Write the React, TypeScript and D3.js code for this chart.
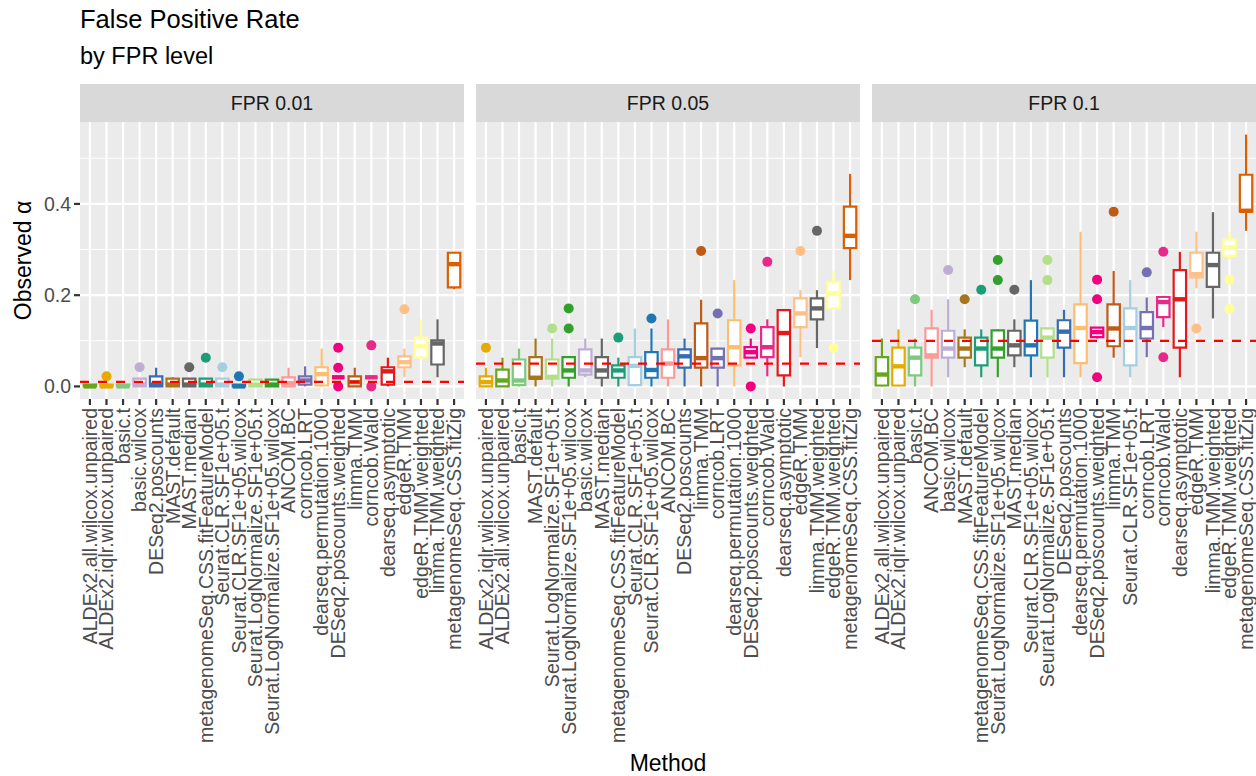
import React from "react";
import * as d3 from "d3";

// Facet titles and the nominal FPR level drawn as a dashed reference line in each facet
const panelTitles = ["FPR 0.01", "FPR 0.05", "FPR 0.1"];
const nominalLevels = [0.01, 0.05, 0.1];
const yMajorTicks = [0, 0.2, 0.4];
const yMinorTicks = [0.1, 0.3, 0.5];

// Box summaries: [lower whisker, Q1, median, Q3, upper whisker]
type Stats = [number, number, number, number, number];

// ---- FPR 0.01 (methods ordered by median) ----
const fpr01Methods = [
  "ALDEx2.all.wilcox.unpaired",
  "ALDEx2.iqlr.wilcox.unpaired",
  "basic.t",
  "basic.wilcox",
  "DESeq2.poscounts",
  "MAST.default",
  "MAST.median",
  "metagenomeSeq.CSS.fitFeatureModel",
  "Seurat.CLR.SF1e+05.t",
  "Seurat.CLR.SF1e+05.wilcox",
  "Seurat.LogNormalize.SF1e+05.t",
  "Seurat.LogNormalize.SF1e+05.wilcox",
  "ANCOM.BC",
  "corncob.LRT",
  "dearseq.permutation.1000",
  "DESeq2.poscounts.weighted",
  "limma.TMM",
  "corncob.Wald",
  "dearseq.asymptotic",
  "edgeR.TMM",
  "edgeR.TMM.weighted",
  "limma.TMM.weighted",
  "metagenomeSeq.CSS.fitZig",
];
const fpr01Stats: Stats[] = [
  [0, 0, 0, 0.004, 0.004],
  [0, 0, 0, 0.004, 0.004],
  [0, 0, 0, 0.004, 0.004],
  [0, 0, 0.004, 0.017, 0.017],
  [0, 0, 0.004, 0.022, 0.041],
  [0, 0, 0.004, 0.017, 0.02],
  [0, 0, 0.004, 0.017, 0.017],
  [0, 0, 0.004, 0.017, 0.017],
  [0, 0, 0.004, 0.017, 0.017],
  [0, 0, 0, 0.004, 0.004],
  [0, 0, 0.004, 0.015, 0.015],
  [0, 0, 0.004, 0.015, 0.015],
  [0, 0, 0.007, 0.02, 0.041],
  [0, 0.004, 0.013, 0.022, 0.044],
  [0, 0.002, 0.027, 0.042, 0.083],
  [0.02, 0.02, 0.02, 0.02, 0.02],
  [0, 0, 0.0095, 0.022, 0.041],
  [0.02, 0.02, 0.02, 0.02, 0.02],
  [0, 0.004, 0.033, 0.042, 0.063],
  [0.02, 0.042, 0.053, 0.066, 0.083],
  [0.063, 0.063, 0.088, 0.107, 0.147],
  [0.02, 0.048, 0.094, 0.101, 0.147],
  [0.213, 0.217, 0.268, 0.293, 0.295],
];
const fpr01Outliers: number[][] = [
  [], [0.022], [], [0.042], [], [], [0.042], [0.063], [0.042], [0.022], [], [],
  [], [], [], [0.085, 0.041, 0], [], [0.09, 0], [], [0.169], [], [], [],
];

// ---- FPR 0.05 ----
const fpr05Methods = [
  "ALDEx2.iqlr.wilcox.unpaired",
  "ALDEx2.all.wilcox.unpaired",
  "basic.t",
  "MAST.default",
  "Seurat.LogNormalize.SF1e+05.t",
  "Seurat.LogNormalize.SF1e+05.wilcox",
  "basic.wilcox",
  "MAST.median",
  "metagenomeSeq.CSS.fitFeatureModel",
  "Seurat.CLR.SF1e+05.t",
  "Seurat.CLR.SF1e+05.wilcox",
  "ANCOM.BC",
  "DESeq2.poscounts",
  "limma.TMM",
  "corncob.LRT",
  "dearseq.permutation.1000",
  "DESeq2.poscounts.weighted",
  "corncob.Wald",
  "dearseq.asymptotic",
  "edgeR.TMM",
  "limma.TMM.weighted",
  "edgeR.TMM.weighted",
  "metagenomeSeq.CSS.fitZig",
];
const fpr05Stats: Stats[] = [
  [0, 0, 0.0095, 0.022, 0.041],
  [0, 0, 0.013, 0.037, 0.063],
  [0, 0.003, 0.013, 0.059, 0.083],
  [0, 0.017, 0.019, 0.064, 0.105],
  [0, 0.017, 0.021, 0.059, 0.105],
  [0, 0.019, 0.035, 0.064, 0.064],
  [0.02, 0.026, 0.035, 0.081, 0.105],
  [0, 0.019, 0.035, 0.064, 0.105],
  [0, 0.019, 0.035, 0.046, 0.063],
  [0, 0.003, 0.045, 0.064, 0.127],
  [0, 0.019, 0.036, 0.075, 0.127],
  [0, 0.019, 0.05, 0.081, 0.147],
  [0, 0.041, 0.066, 0.081, 0.105],
  [0, 0.041, 0.062, 0.138, 0.19],
  [0, 0.041, 0.062, 0.083, 0.085],
  [0, 0.046, 0.086, 0.145, 0.233],
  [0.063, 0.063, 0.075, 0.086, 0.105],
  [0.022, 0.064, 0.086, 0.13, 0.147],
  [0, 0.024, 0.117, 0.167, 0.17],
  [0.064, 0.13, 0.16, 0.193, 0.211],
  [0.084, 0.147, 0.171, 0.193, 0.211],
  [0.171, 0.171, 0.204, 0.229, 0.253],
  [0.233, 0.303, 0.33, 0.394, 0.466],
];
const fpr05Outliers: number[][] = [
  [0.085], [], [], [], [0.127], [0.127, 0.171], [], [], [0.107], [], [0.149], [],
  [], [0.297], [0.16], [], [0.127, 0], [0.273], [], [0.297], [0.341], [0.084], [],
];

// ---- FPR 0.1 ----
const fpr10Methods = [
  "ALDEx2.all.wilcox.unpaired",
  "ALDEx2.iqlr.wilcox.unpaired",
  "basic.t",
  "ANCOM.BC",
  "basic.wilcox",
  "MAST.default",
  "metagenomeSeq.CSS.fitFeatureModel",
  "Seurat.LogNormalize.SF1e+05.wilcox",
  "MAST.median",
  "Seurat.CLR.SF1e+05.wilcox",
  "Seurat.LogNormalize.SF1e+05.t",
  "DESeq2.poscounts",
  "dearseq.permutation.1000",
  "DESeq2.poscounts.weighted",
  "limma.TMM",
  "Seurat.CLR.SF1e+05.t",
  "corncob.LRT",
  "corncob.Wald",
  "dearseq.asymptotic",
  "edgeR.TMM",
  "limma.TMM.weighted",
  "edgeR.TMM.weighted",
  "metagenomeSeq.CSS.fitZig",
];
const fpr10Stats: Stats[] = [
  [0, 0.002, 0.026, 0.064, 0.105],
  [0, 0.002, 0.044, 0.085, 0.125],
  [0, 0.024, 0.063, 0.085, 0.105],
  [0, 0.063, 0.068, 0.127, 0.168],
  [0.02, 0.063, 0.083, 0.122, 0.191],
  [0.042, 0.063, 0.083, 0.107, 0.125],
  [0.02, 0.046, 0.083, 0.107, 0.125],
  [0.02, 0.063, 0.083, 0.123, 0.125],
  [0.042, 0.068, 0.09, 0.122, 0.147],
  [0.02, 0.068, 0.09, 0.144, 0.233],
  [0.02, 0.063, 0.107, 0.127, 0.127],
  [0.02, 0.085, 0.12, 0.145, 0.168],
  [0.02, 0.051, 0.128, 0.18, 0.339],
  [0.105, 0.108, 0.119, 0.129, 0.129],
  [0.063, 0.088, 0.127, 0.18, 0.253],
  [0.02, 0.046, 0.128, 0.171, 0.233],
  [0.064, 0.105, 0.128, 0.163, 0.195],
  [0.13, 0.152, 0.185, 0.196, 0.196],
  [0.02, 0.085, 0.191, 0.255, 0.295],
  [0.215, 0.239, 0.246, 0.293, 0.339],
  [0.149, 0.218, 0.266, 0.293, 0.382],
  [0.277, 0.286, 0.305, 0.322, 0.339],
  [0.341, 0.383, 0.385, 0.464, 0.552],
];
const fpr10Outliers: number[][] = [
  [], [], [0.191], [], [0.255], [0.191], [0.212], [0.277, 0.233], [0.212], [], [0.277, 0.233],
  [], [], [0.234, 0.191, 0.02], [0.383], [], [0.25], [0.295, 0.064], [], [0.127], [], [0.234, 0.17], [],
];

// Colour of each method, shared across facets
const methodColors: Record<string, string> = {
  "ALDEx2.all.wilcox.unpaired": "#66A61E",
  "ALDEx2.iqlr.wilcox.unpaired": "#E6AB02",
  "basic.t": "#7FC97F",
  "basic.wilcox": "#BEAED4",
  "DESeq2.poscounts": "#386CB0",
  "MAST.default": "#A6761D",
  "MAST.median": "#666666",
  "metagenomeSeq.CSS.fitFeatureModel": "#1B9E77",
  "Seurat.CLR.SF1e+05.t": "#A6CEE3",
  "Seurat.CLR.SF1e+05.wilcox": "#1F78B4",
  "Seurat.LogNormalize.SF1e+05.t": "#B2DF8A",
  "Seurat.LogNormalize.SF1e+05.wilcox": "#33A02C",
  "ANCOM.BC": "#FB9A99",
  "corncob.LRT": "#7570B3",
  "dearseq.permutation.1000": "#FDBF6F",
  "DESeq2.poscounts.weighted": "#F0027F",
  "limma.TMM": "#BF5B17",
  "corncob.Wald": "#E7298A",
  "dearseq.asymptotic": "#E31A1C",
  "edgeR.TMM": "#FDC086",
  "edgeR.TMM.weighted": "#FFFF99",
  "limma.TMM.weighted": "#666666",
  "metagenomeSeq.CSS.fitZig": "#D95F02",
};

const panels = [
  { title: panelTitles[0], level: nominalLevels[0], methods: fpr01Methods, stats: fpr01Stats, outliers: fpr01Outliers },
  { title: panelTitles[1], level: nominalLevels[1], methods: fpr05Methods, stats: fpr05Stats, outliers: fpr05Outliers },
  { title: panelTitles[2], level: nominalLevels[2], methods: fpr10Methods, stats: fpr10Stats, outliers: fpr10Outliers },
];

// Layout
const W = 1256;
const H = 776;
const panelLeft = [80, 476, 872];
const panelW = 384;
const stripTop = 84;
const panelTop = 122;
const panelBottom = 399;
const FONT = "'Liberation Sans', Arial, Helvetica, sans-serif";
const LW = 2.2;

export default function App() {
  const allValues = panels.flatMap((p) => [...p.stats.flat(), ...p.outliers.flat()]);
  const vMin = d3.min(allValues) as number;
  const vMax = d3.max(allValues) as number;
  const pad = (vMax - vMin) * 0.05;
  const y = d3.scaleLinear().domain([vMin - pad, vMax + pad]).range([panelBottom, panelTop]);

  return (
    <svg
      width={W}
      height={H}
      style={{ position: "absolute", left: 0, top: 0, background: "#fff" }}
      fontFamily={FONT}
    >
      <rect x={0} y={0} width={W} height={H} fill="#fff" />
      <text x={80} y={28} fontSize={25.5} fill="#000">False Positive Rate</text>
      <text x={80} y={64} fontSize={23.5} fill="#000">by FPR level</text>

      {panels.map((p, pi) => {
        const x0 = panelLeft[pi];
        const x = d3.scalePoint<string>().domain(p.methods).range([x0, x0 + panelW]).padding(0.6);
        const bw = x.step() * 0.75;
        return (
          <g key={p.title}>
            <rect x={x0} y={stripTop} width={panelW} height={panelTop - stripTop} fill="#D9D9D9" />
            <text
              x={x0 + panelW / 2}
              y={(stripTop + panelTop) / 2}
              dy="0.36em"
              textAnchor="middle"
              fontSize={19.5}
              fill="#1A1A1A"
            >
              {p.title}
            </text>
            <rect x={x0} y={panelTop} width={panelW} height={panelBottom - panelTop} fill="#EBEBEB" />
            {yMinorTicks.map((v) => (
              <line key={"mi" + v} x1={x0} x2={x0 + panelW} y1={y(v)} y2={y(v)} stroke="#fff" strokeWidth={LW / 2} />
            ))}
            {yMajorTicks.map((v) => (
              <line key={"ma" + v} x1={x0} x2={x0 + panelW} y1={y(v)} y2={y(v)} stroke="#fff" strokeWidth={LW} />
            ))}
            {p.methods.map((m) => (
              <line key={"v" + m} x1={x(m)!} x2={x(m)!} y1={panelTop} y2={panelBottom} stroke="#fff" strokeWidth={LW} />
            ))}

            {p.methods.map((m, i) => {
              const [lo, q1, med, q3, hi] = p.stats[i];
              const cx = x(m)!;
              const col = methodColors[m];
              const l = cx - bw / 2;
              const r = cx + bw / 2;
              return (
                <g key={"b" + m}>
                  {p.outliers[i].map((o, k) => (
                    <circle key={k} cx={cx} cy={y(o)} r={5} fill={col} />
                  ))}
                  <line x1={cx} x2={cx} y1={y(q3)} y2={y(hi)} stroke={col} strokeWidth={LW} />
                  <line x1={cx} x2={cx} y1={y(q1)} y2={y(lo)} stroke={col} strokeWidth={LW} />
                  <path
                    d={`M${l},${y(q3)}H${r}V${y(q1)}H${l}Z`}
                    fill="#fff"
                    stroke={col}
                    strokeWidth={LW}
                    strokeLinejoin="miter"
                  />
                  <line x1={l} x2={r} y1={y(med)} y2={y(med)} stroke={col} strokeWidth={LW * 2} />
                </g>
              );
            })}

            <line
              x1={x0}
              x2={x0 + panelW}
              y1={y(p.level)}
              y2={y(p.level)}
              stroke="#FF0000"
              strokeWidth={LW}
              strokeDasharray="9 9"
            />

            {p.methods.map((m) => (
              <g key={"t" + m}>
                <line x1={x(m)!} x2={x(m)!} y1={panelBottom} y2={panelBottom + 6} stroke="#333333" strokeWidth={LW} />
                <text
                  transform={`translate(${x(m)!},${panelBottom + 9}) rotate(-90)`}
                  textAnchor="end"
                  dy="0.35em"
                  fontSize={19.5}
                  fill="#4D4D4D"
                >
                  {m}
                </text>
              </g>
            ))}
          </g>
        );
      })}

      {yMajorTicks.map((v) => (
        <g key={"yt" + v}>
          <line x1={74} x2={80} y1={y(v)} y2={y(v)} stroke="#333333" strokeWidth={LW} />
          <text x={71} y={y(v)} dy="0.36em" textAnchor="end" fontSize={19.5} fill="#4D4D4D">
            {d3.format(".1f")(v)}
          </text>
        </g>
      ))}

      <text
        transform={`translate(31,${(panelTop + panelBottom) / 2}) rotate(-90)`}
        textAnchor="middle"
        fontSize={23}
        fill="#000"
      >
        Observed α
      </text>
      <text x={(panelLeft[0] + panelLeft[2] + panelW) / 2} y={771} textAnchor="middle" fontSize={23} fill="#000">
        Method
      </text>
    </svg>
  );
}
